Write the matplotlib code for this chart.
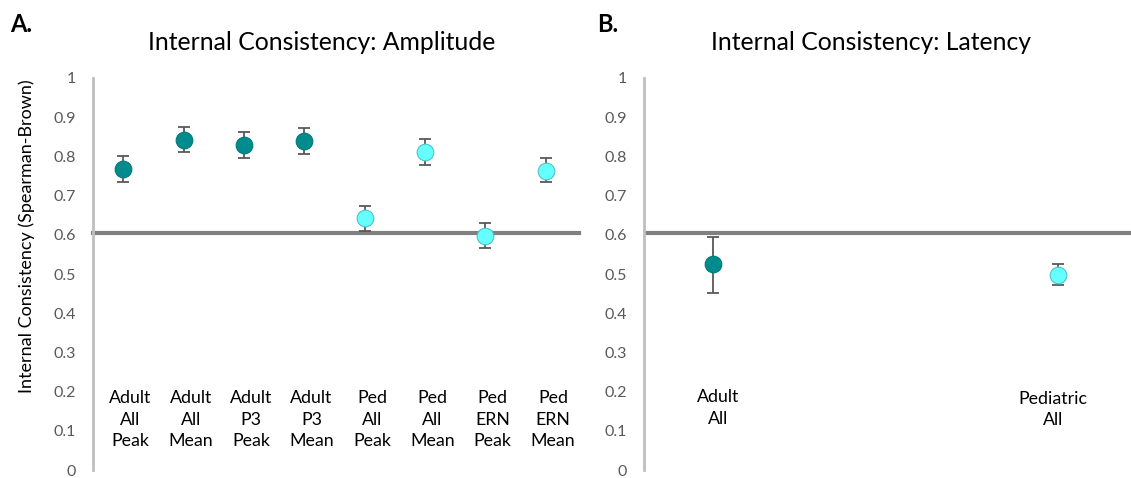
import numpy as np
import matplotlib.pyplot as plt

plt.rcParams['font.family'] = ['Lato', 'DejaVu Sans']

# Panel A: amplitude
amp_labels = ['Adult\nAll\nPeak', 'Adult\nAll\nMean', 'Adult\nP3\nPeak', 'Adult\nP3\nMean',
              'Ped\nAll\nPeak', 'Ped\nAll\nMean', 'Ped\nERN\nPeak', 'Ped\nERN\nMean']
amp_values = [0.768, 0.842, 0.829, 0.840, 0.642, 0.811, 0.597, 0.763]
amp_low = [0.735, 0.810, 0.797, 0.807, 0.610, 0.778, 0.566, 0.734]
amp_high = [0.802, 0.876, 0.862, 0.873, 0.674, 0.845, 0.629, 0.796]
amp_group = ['adult'] * 4 + ['ped'] * 4

# Panel B: latency
lat_labels = ['Adult\nAll', 'Pediatric\nAll']
lat_values = [0.525, 0.497]
lat_low = [0.452, 0.471]
lat_high = [0.595, 0.525]
lat_group = ['adult', 'ped']

threshold = 0.604

colors = {'adult': '#008C8C', 'ped': '#66FFFF'}
edges = {'adult': '#007A7A', 'ped': '#4FC4C4'}
tick_col = '#595959'

W, H = 1131, 478
fig = plt.figure(figsize=(W / 100, H / 100), dpi=100)
axA = fig.add_axes([93 / W, 8 / H, 483 / W, 392 / H])
axB = fig.add_axes([644 / W, 8 / H, 487 / W, 392 / H])


def style(ax):
    ax.set_ylim(0, 1)
    ax.set_yticks(np.arange(0, 1.01, 0.1))
    ax.set_yticklabels(['0'] + ['%.1f' % v for v in np.arange(0.1, 0.95, 0.1)] + ['1'])
    ax.tick_params(axis='y', length=0, pad=12, labelsize=11.5, labelcolor=tick_col)
    ax.set_xticks([])
    for s in ['top', 'right', 'bottom']:
        ax.spines[s].set_visible(False)
    ax.spines['left'].set_color('#BFBFBF')
    ax.spines['left'].set_linewidth(2)


def draw(ax, xs, vals, lo, hi, groups):
    for x, v, l, h, g in zip(xs, vals, lo, hi, groups):
        ax.errorbar(x, v, yerr=[[v - l], [h - v]], fmt='none', ecolor=tick_col,
                    elinewidth=1.3, capsize=4, capthick=1.3, zorder=2)
        ax.plot(x, v, 'o', ms=12, color=colors[g], mec=edges[g], mew=0.8, zorder=3)


# panel A
style(axA)
axA.set_xlim(0, 8)
xa = np.arange(len(amp_values)) + 0.5
axA.axhline(threshold, color='#808080', lw=3, zorder=1, xmax=1.006, clip_on=False)
draw(axA, xa, amp_values, amp_low, amp_high, amp_group)
for x, lab in zip(xa, amp_labels):
    axA.text(x + 0.12, 0.128, lab, ha='center', va='center', fontsize=12.8,
             linespacing=1.42, color='black')

# panel B
style(axB)
axB.set_xlim(0, 7.06)
xb = [1, 6]
axB.axhline(threshold, color='#808080', lw=3, zorder=1)
draw(axB, xb, lat_values, lat_low, lat_high, lat_group)
axB.text(1.08, 0.158, lat_labels[0], ha='center', va='center', fontsize=12.8,
         linespacing=1.42)
axB.text(5.93, 0.155, lat_labels[1], ha='center', va='center', fontsize=12.8,
         linespacing=1.42)

fig.text(27 / W, 1 - 236 / H, 'Internal Consistency (Spearman-Brown)', rotation=90,
         ha='center', va='center', fontsize=13)
fig.text(322 / W, 1 - 42 / H, 'Internal Consistency: Amplitude', ha='center', va='center', fontsize=17.8)
fig.text(871 / W, 1 - 42 / H, 'Internal Consistency: Latency', ha='center', va='center', fontsize=17.8)
fig.text(10 / W, 1 - 25 / H, 'A.', ha='left', va='center', fontsize=17, fontweight='bold')
fig.text(597 / W, 1 - 25 / H, 'B.', ha='left', va='center', fontsize=17, fontweight='bold')

fig.savefig('out.png', dpi=100)
